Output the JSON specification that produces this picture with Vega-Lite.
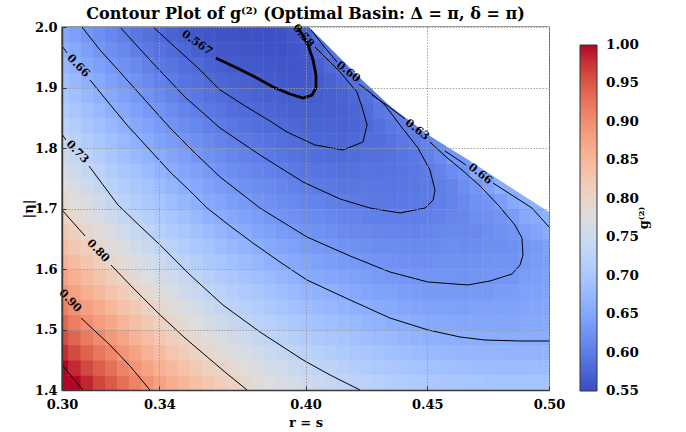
{
"$schema":"https://vega.github.io/schema/vega-lite/v6.json",
"width":487,"height":363,
"autosize":{"type":"none"},
"padding":{"left":62,"top":27,"right":137,"bottom":42},
"background":"white",
"title":{"text":"Contour Plot of g⁽²⁾ (Optimal Basin: Δ = π, δ = π)","font":"DejaVu Serif","fontSize":16,"fontWeight":"bold","color":"#000","anchor":"middle","offset":-1},
"config":{
 "view":{"stroke":"#3a3a3a","strokeWidth":1.4},
 "axis":{"labelFont":"DejaVu Serif","labelFontWeight":"bold","labelFontSize":13,"labelColor":"#000","labelFlush":false,"titleFont":"DejaVu Serif","titleFontWeight":"bold","titleFontSize":13,"titleColor":"#000","grid":true,"gridColor":"#9a9a9a","gridDash":[1.5,1.5],"gridWidth":0.9,"domain":true,"domainColor":"#3a3a3a","domainWidth":1.4,"ticks":true,"tickColor":"#333","tickSize":-4,"labelPadding":6,"titlePadding":6},
 "axisX":{"titlePadding":5,"labelPadding":12},
 "axisY":{"titleX":-34,"titleBaseline":"middle","labelPadding":9}
},
"datasets":{
"grid":[
{"r":0.300,"e":1.4125,"g":1.02},{"r":0.300,"e":1.4375,"g":1.003},{"r":0.300,"e":1.4625,"g":0.981},{"r":0.300,"e":1.4875,"g":0.959},{"r":0.300,"e":1.5125,"g":0.937},{"r":0.300,"e":1.5375,"g":0.914},{"r":0.300,"e":1.5625,"g":0.894},{"r":0.300,"e":1.5875,"g":0.877},{"r":0.300,"e":1.6125,"g":0.859},{"r":0.300,"e":1.6375,"g":0.842},{"r":0.300,"e":1.6625,"g":0.824},{"r":0.300,"e":1.6875,"g":0.807},{"r":0.300,"e":1.7125,"g":0.792},{"r":0.300,"e":1.7375,"g":0.778},{"r":0.300,"e":1.7625,"g":0.764},{"r":0.300,"e":1.7875,"g":0.750},{"r":0.300,"e":1.8125,"g":0.736},{"r":0.300,"e":1.8375,"g":0.723},{"r":0.300,"e":1.8625,"g":0.711},{"r":0.300,"e":1.8875,"g":0.699},{"r":0.300,"e":1.9125,"g":0.687},{"r":0.300,"e":1.9375,"g":0.675},{"r":0.300,"e":1.9625,"g":0.663},{"r":0.300,"e":1.9875,"g":0.652},
{"r":0.305,"e":1.4125,"g":1.004},{"r":0.305,"e":1.4375,"g":0.982},{"r":0.305,"e":1.4625,"g":0.960},{"r":0.305,"e":1.4875,"g":0.939},{"r":0.305,"e":1.5125,"g":0.917},{"r":0.305,"e":1.5375,"g":0.896},{"r":0.305,"e":1.5625,"g":0.878},{"r":0.305,"e":1.5875,"g":0.861},{"r":0.305,"e":1.6125,"g":0.843},{"r":0.305,"e":1.6375,"g":0.826},{"r":0.305,"e":1.6625,"g":0.809},{"r":0.305,"e":1.6875,"g":0.793},{"r":0.305,"e":1.7125,"g":0.779},{"r":0.305,"e":1.7375,"g":0.764},{"r":0.305,"e":1.7625,"g":0.750},{"r":0.305,"e":1.7875,"g":0.736},{"r":0.305,"e":1.8125,"g":0.723},{"r":0.305,"e":1.8375,"g":0.711},{"r":0.305,"e":1.8625,"g":0.699},{"r":0.305,"e":1.8875,"g":0.687},{"r":0.305,"e":1.9125,"g":0.675},{"r":0.305,"e":1.9375,"g":0.663},{"r":0.305,"e":1.9625,"g":0.652},{"r":0.305,"e":1.9875,"g":0.642},
{"r":0.310,"e":1.4125,"g":0.984},{"r":0.310,"e":1.4375,"g":0.962},{"r":0.310,"e":1.4625,"g":0.941},{"r":0.310,"e":1.4875,"g":0.920},{"r":0.310,"e":1.5125,"g":0.899},{"r":0.310,"e":1.5375,"g":0.881},{"r":0.310,"e":1.5625,"g":0.863},{"r":0.310,"e":1.5875,"g":0.846},{"r":0.310,"e":1.6125,"g":0.828},{"r":0.310,"e":1.6375,"g":0.810},{"r":0.310,"e":1.6625,"g":0.794},{"r":0.310,"e":1.6875,"g":0.780},{"r":0.310,"e":1.7125,"g":0.766},{"r":0.310,"e":1.7375,"g":0.751},{"r":0.310,"e":1.7625,"g":0.737},{"r":0.310,"e":1.7875,"g":0.724},{"r":0.310,"e":1.8125,"g":0.712},{"r":0.310,"e":1.8375,"g":0.700},{"r":0.310,"e":1.8625,"g":0.688},{"r":0.310,"e":1.8875,"g":0.676},{"r":0.310,"e":1.9125,"g":0.663},{"r":0.310,"e":1.9375,"g":0.652},{"r":0.310,"e":1.9625,"g":0.642},{"r":0.310,"e":1.9875,"g":0.631},
{"r":0.315,"e":1.4125,"g":0.965},{"r":0.315,"e":1.4375,"g":0.945},{"r":0.315,"e":1.4625,"g":0.924},{"r":0.315,"e":1.4875,"g":0.904},{"r":0.315,"e":1.5125,"g":0.885},{"r":0.315,"e":1.5375,"g":0.867},{"r":0.315,"e":1.5625,"g":0.849},{"r":0.315,"e":1.5875,"g":0.831},{"r":0.315,"e":1.6125,"g":0.812},{"r":0.315,"e":1.6375,"g":0.795},{"r":0.315,"e":1.6625,"g":0.781},{"r":0.315,"e":1.6875,"g":0.766},{"r":0.315,"e":1.7125,"g":0.751},{"r":0.315,"e":1.7375,"g":0.737},{"r":0.315,"e":1.7625,"g":0.724},{"r":0.315,"e":1.7875,"g":0.712},{"r":0.315,"e":1.8125,"g":0.700},{"r":0.315,"e":1.8375,"g":0.688},{"r":0.315,"e":1.8625,"g":0.676},{"r":0.315,"e":1.8875,"g":0.664},{"r":0.315,"e":1.9125,"g":0.653},{"r":0.315,"e":1.9375,"g":0.642},{"r":0.315,"e":1.9625,"g":0.631},{"r":0.315,"e":1.9875,"g":0.621},
{"r":0.320,"e":1.4125,"g":0.948},{"r":0.320,"e":1.4375,"g":0.928},{"r":0.320,"e":1.4625,"g":0.908},{"r":0.320,"e":1.4875,"g":0.889},{"r":0.320,"e":1.5125,"g":0.871},{"r":0.320,"e":1.5375,"g":0.852},{"r":0.320,"e":1.5625,"g":0.833},{"r":0.320,"e":1.5875,"g":0.815},{"r":0.320,"e":1.6125,"g":0.797},{"r":0.320,"e":1.6375,"g":0.781},{"r":0.320,"e":1.6625,"g":0.766},{"r":0.320,"e":1.6875,"g":0.751},{"r":0.320,"e":1.7125,"g":0.736},{"r":0.320,"e":1.7375,"g":0.723},{"r":0.320,"e":1.7625,"g":0.711},{"r":0.320,"e":1.7875,"g":0.699},{"r":0.320,"e":1.8125,"g":0.687},{"r":0.320,"e":1.8375,"g":0.676},{"r":0.320,"e":1.8625,"g":0.664},{"r":0.320,"e":1.8875,"g":0.653},{"r":0.320,"e":1.9125,"g":0.642},{"r":0.320,"e":1.9375,"g":0.632},{"r":0.320,"e":1.9625,"g":0.622},{"r":0.320,"e":1.9875,"g":0.612},
{"r":0.325,"e":1.4125,"g":0.931},{"r":0.325,"e":1.4375,"g":0.911},{"r":0.325,"e":1.4625,"g":0.892},{"r":0.325,"e":1.4875,"g":0.874},{"r":0.325,"e":1.5125,"g":0.855},{"r":0.325,"e":1.5375,"g":0.836},{"r":0.325,"e":1.5625,"g":0.818},{"r":0.325,"e":1.5875,"g":0.799},{"r":0.325,"e":1.6125,"g":0.783},{"r":0.325,"e":1.6375,"g":0.768},{"r":0.325,"e":1.6625,"g":0.752},{"r":0.325,"e":1.6875,"g":0.737},{"r":0.325,"e":1.7125,"g":0.723},{"r":0.325,"e":1.7375,"g":0.711},{"r":0.325,"e":1.7625,"g":0.700},{"r":0.325,"e":1.7875,"g":0.688},{"r":0.325,"e":1.8125,"g":0.676},{"r":0.325,"e":1.8375,"g":0.664},{"r":0.325,"e":1.8625,"g":0.653},{"r":0.325,"e":1.8875,"g":0.643},{"r":0.325,"e":1.9125,"g":0.633},{"r":0.325,"e":1.9375,"g":0.623},{"r":0.325,"e":1.9625,"g":0.613},{"r":0.325,"e":1.9875,"g":0.603},
{"r":0.330,"e":1.4125,"g":0.913},{"r":0.330,"e":1.4375,"g":0.894},{"r":0.330,"e":1.4625,"g":0.876},{"r":0.330,"e":1.4875,"g":0.857},{"r":0.330,"e":1.5125,"g":0.839},{"r":0.330,"e":1.5375,"g":0.820},{"r":0.330,"e":1.5625,"g":0.802},{"r":0.330,"e":1.5875,"g":0.786},{"r":0.330,"e":1.6125,"g":0.771},{"r":0.330,"e":1.6375,"g":0.755},{"r":0.330,"e":1.6625,"g":0.740},{"r":0.330,"e":1.6875,"g":0.726},{"r":0.330,"e":1.7125,"g":0.714},{"r":0.330,"e":1.7375,"g":0.702},{"r":0.330,"e":1.7625,"g":0.690},{"r":0.330,"e":1.7875,"g":0.677},{"r":0.330,"e":1.8125,"g":0.665},{"r":0.330,"e":1.8375,"g":0.654},{"r":0.330,"e":1.8625,"g":0.644},{"r":0.330,"e":1.8875,"g":0.634},{"r":0.330,"e":1.9125,"g":0.624},{"r":0.330,"e":1.9375,"g":0.614},{"r":0.330,"e":1.9625,"g":0.604},{"r":0.330,"e":1.9875,"g":0.594},
{"r":0.335,"e":1.4125,"g":0.895},{"r":0.335,"e":1.4375,"g":0.877},{"r":0.335,"e":1.4625,"g":0.859},{"r":0.335,"e":1.4875,"g":0.841},{"r":0.335,"e":1.5125,"g":0.823},{"r":0.335,"e":1.5375,"g":0.805},{"r":0.335,"e":1.5625,"g":0.789},{"r":0.335,"e":1.5875,"g":0.774},{"r":0.335,"e":1.6125,"g":0.759},{"r":0.335,"e":1.6375,"g":0.744},{"r":0.335,"e":1.6625,"g":0.729},{"r":0.335,"e":1.6875,"g":0.716},{"r":0.335,"e":1.7125,"g":0.704},{"r":0.335,"e":1.7375,"g":0.692},{"r":0.335,"e":1.7625,"g":0.679},{"r":0.335,"e":1.7875,"g":0.667},{"r":0.335,"e":1.8125,"g":0.656},{"r":0.335,"e":1.8375,"g":0.645},{"r":0.335,"e":1.8625,"g":0.635},{"r":0.335,"e":1.8875,"g":0.625},{"r":0.335,"e":1.9125,"g":0.615},{"r":0.335,"e":1.9375,"g":0.605},{"r":0.335,"e":1.9625,"g":0.596},{"r":0.335,"e":1.9875,"g":0.588},
{"r":0.340,"e":1.4125,"g":0.879},{"r":0.340,"e":1.4375,"g":0.861},{"r":0.340,"e":1.4625,"g":0.844},{"r":0.340,"e":1.4875,"g":0.826},{"r":0.340,"e":1.5125,"g":0.809},{"r":0.340,"e":1.5375,"g":0.792},{"r":0.340,"e":1.5625,"g":0.777},{"r":0.340,"e":1.5875,"g":0.762},{"r":0.340,"e":1.6125,"g":0.747},{"r":0.340,"e":1.6375,"g":0.732},{"r":0.340,"e":1.6625,"g":0.719},{"r":0.340,"e":1.6875,"g":0.706},{"r":0.340,"e":1.7125,"g":0.694},{"r":0.340,"e":1.7375,"g":0.681},{"r":0.340,"e":1.7625,"g":0.669},{"r":0.340,"e":1.7875,"g":0.657},{"r":0.340,"e":1.8125,"g":0.646},{"r":0.340,"e":1.8375,"g":0.636},{"r":0.340,"e":1.8625,"g":0.626},{"r":0.340,"e":1.8875,"g":0.616},{"r":0.340,"e":1.9125,"g":0.606},{"r":0.340,"e":1.9375,"g":0.597},{"r":0.340,"e":1.9625,"g":0.589},{"r":0.340,"e":1.9875,"g":0.581},
{"r":0.345,"e":1.4125,"g":0.864},{"r":0.345,"e":1.4375,"g":0.847},{"r":0.345,"e":1.4625,"g":0.830},{"r":0.345,"e":1.4875,"g":0.813},{"r":0.345,"e":1.5125,"g":0.796},{"r":0.345,"e":1.5375,"g":0.781},{"r":0.345,"e":1.5625,"g":0.766},{"r":0.345,"e":1.5875,"g":0.750},{"r":0.345,"e":1.6125,"g":0.735},{"r":0.345,"e":1.6375,"g":0.721},{"r":0.345,"e":1.6625,"g":0.709},{"r":0.345,"e":1.6875,"g":0.696},{"r":0.345,"e":1.7125,"g":0.683},{"r":0.345,"e":1.7375,"g":0.670},{"r":0.345,"e":1.7625,"g":0.658},{"r":0.345,"e":1.7875,"g":0.648},{"r":0.345,"e":1.8125,"g":0.637},{"r":0.345,"e":1.8375,"g":0.627},{"r":0.345,"e":1.8625,"g":0.618},{"r":0.345,"e":1.8875,"g":0.608},{"r":0.345,"e":1.9125,"g":0.599},{"r":0.345,"e":1.9375,"g":0.591},{"r":0.345,"e":1.9625,"g":0.583},{"r":0.345,"e":1.9875,"g":0.574},
{"r":0.350,"e":1.4125,"g":0.852},{"r":0.350,"e":1.4375,"g":0.835},{"r":0.350,"e":1.4625,"g":0.817},{"r":0.350,"e":1.4875,"g":0.800},{"r":0.350,"e":1.5125,"g":0.785},{"r":0.350,"e":1.5375,"g":0.769},{"r":0.350,"e":1.5625,"g":0.754},{"r":0.350,"e":1.5875,"g":0.738},{"r":0.350,"e":1.6125,"g":0.724},{"r":0.350,"e":1.6375,"g":0.711},{"r":0.350,"e":1.6625,"g":0.699},{"r":0.350,"e":1.6875,"g":0.686},{"r":0.350,"e":1.7125,"g":0.673},{"r":0.350,"e":1.7375,"g":0.661},{"r":0.350,"e":1.7625,"g":0.650},{"r":0.350,"e":1.7875,"g":0.640},{"r":0.350,"e":1.8125,"g":0.629},{"r":0.350,"e":1.8375,"g":0.619},{"r":0.350,"e":1.8625,"g":0.609},{"r":0.350,"e":1.8875,"g":0.600},{"r":0.350,"e":1.9125,"g":0.592},{"r":0.350,"e":1.9375,"g":0.585},{"r":0.350,"e":1.9625,"g":0.577},{"r":0.350,"e":1.9875,"g":0.568},
{"r":0.355,"e":1.4125,"g":0.839},{"r":0.355,"e":1.4375,"g":0.822},{"r":0.355,"e":1.4625,"g":0.805},{"r":0.355,"e":1.4875,"g":0.789},{"r":0.355,"e":1.5125,"g":0.773},{"r":0.355,"e":1.5375,"g":0.758},{"r":0.355,"e":1.5625,"g":0.742},{"r":0.355,"e":1.5875,"g":0.727},{"r":0.355,"e":1.6125,"g":0.714},{"r":0.355,"e":1.6375,"g":0.701},{"r":0.355,"e":1.6625,"g":0.689},{"r":0.355,"e":1.6875,"g":0.676},{"r":0.355,"e":1.7125,"g":0.663},{"r":0.355,"e":1.7375,"g":0.652},{"r":0.355,"e":1.7625,"g":0.642},{"r":0.355,"e":1.7875,"g":0.631},{"r":0.355,"e":1.8125,"g":0.621},{"r":0.355,"e":1.8375,"g":0.612},{"r":0.355,"e":1.8625,"g":0.602},{"r":0.355,"e":1.8875,"g":0.594},{"r":0.355,"e":1.9125,"g":0.587},{"r":0.355,"e":1.9375,"g":0.579},{"r":0.355,"e":1.9625,"g":0.571},{"r":0.355,"e":1.9875,"g":0.563},
{"r":0.360,"e":1.4125,"g":0.827},{"r":0.360,"e":1.4375,"g":0.811},{"r":0.360,"e":1.4625,"g":0.794},{"r":0.360,"e":1.4875,"g":0.778},{"r":0.360,"e":1.5125,"g":0.762},{"r":0.360,"e":1.5375,"g":0.746},{"r":0.360,"e":1.5625,"g":0.730},{"r":0.360,"e":1.5875,"g":0.717},{"r":0.360,"e":1.6125,"g":0.704},{"r":0.360,"e":1.6375,"g":0.692},{"r":0.360,"e":1.6625,"g":0.679},{"r":0.360,"e":1.6875,"g":0.666},{"r":0.360,"e":1.7125,"g":0.654},{"r":0.360,"e":1.7375,"g":0.644},{"r":0.360,"e":1.7625,"g":0.634},{"r":0.360,"e":1.7875,"g":0.624},{"r":0.360,"e":1.8125,"g":0.614},{"r":0.360,"e":1.8375,"g":0.605},{"r":0.360,"e":1.8625,"g":0.596},{"r":0.360,"e":1.8875,"g":0.589},{"r":0.360,"e":1.9125,"g":0.581},{"r":0.360,"e":1.9375,"g":0.573},{"r":0.360,"e":1.9625,"g":0.566},{"r":0.360,"e":1.9875,"g":0.560},
{"r":0.365,"e":1.4125,"g":0.815},{"r":0.365,"e":1.4375,"g":0.799},{"r":0.365,"e":1.4625,"g":0.783},{"r":0.365,"e":1.4875,"g":0.767},{"r":0.365,"e":1.5125,"g":0.751},{"r":0.365,"e":1.5375,"g":0.735},{"r":0.365,"e":1.5625,"g":0.721},{"r":0.365,"e":1.5875,"g":0.708},{"r":0.365,"e":1.6125,"g":0.696},{"r":0.365,"e":1.6375,"g":0.683},{"r":0.365,"e":1.6625,"g":0.671},{"r":0.365,"e":1.6875,"g":0.658},{"r":0.365,"e":1.7125,"g":0.647},{"r":0.365,"e":1.7375,"g":0.636},{"r":0.365,"e":1.7625,"g":0.626},{"r":0.365,"e":1.7875,"g":0.617},{"r":0.365,"e":1.8125,"g":0.608},{"r":0.365,"e":1.8375,"g":0.599},{"r":0.365,"e":1.8625,"g":0.591},{"r":0.365,"e":1.8875,"g":0.583},{"r":0.365,"e":1.9125,"g":0.576},{"r":0.365,"e":1.9375,"g":0.569},{"r":0.365,"e":1.9625,"g":0.562},{"r":0.365,"e":1.9875,"g":0.558},
{"r":0.370,"e":1.4125,"g":0.805},{"r":0.370,"e":1.4375,"g":0.789},{"r":0.370,"e":1.4625,"g":0.773},{"r":0.370,"e":1.4875,"g":0.757},{"r":0.370,"e":1.5125,"g":0.741},{"r":0.370,"e":1.5375,"g":0.726},{"r":0.370,"e":1.5625,"g":0.713},{"r":0.370,"e":1.5875,"g":0.701},{"r":0.370,"e":1.6125,"g":0.688},{"r":0.370,"e":1.6375,"g":0.675},{"r":0.370,"e":1.6625,"g":0.663},{"r":0.370,"e":1.6875,"g":0.651},{"r":0.370,"e":1.7125,"g":0.640},{"r":0.370,"e":1.7375,"g":0.630},{"r":0.370,"e":1.7625,"g":0.620},{"r":0.370,"e":1.7875,"g":0.611},{"r":0.370,"e":1.8125,"g":0.602},{"r":0.370,"e":1.8375,"g":0.594},{"r":0.370,"e":1.8625,"g":0.586},{"r":0.370,"e":1.8875,"g":0.579},{"r":0.370,"e":1.9125,"g":0.573},{"r":0.370,"e":1.9375,"g":0.566},{"r":0.370,"e":1.9625,"g":0.561},{"r":0.370,"e":1.9875,"g":0.557},
{"r":0.375,"e":1.4125,"g":0.794},{"r":0.375,"e":1.4375,"g":0.778},{"r":0.375,"e":1.4625,"g":0.763},{"r":0.375,"e":1.4875,"g":0.747},{"r":0.375,"e":1.5125,"g":0.731},{"r":0.375,"e":1.5375,"g":0.718},{"r":0.375,"e":1.5625,"g":0.706},{"r":0.375,"e":1.5875,"g":0.693},{"r":0.375,"e":1.6125,"g":0.681},{"r":0.375,"e":1.6375,"g":0.668},{"r":0.375,"e":1.6625,"g":0.656},{"r":0.375,"e":1.6875,"g":0.645},{"r":0.375,"e":1.7125,"g":0.634},{"r":0.375,"e":1.7375,"g":0.624},{"r":0.375,"e":1.7625,"g":0.615},{"r":0.375,"e":1.7875,"g":0.606},{"r":0.375,"e":1.8125,"g":0.598},{"r":0.375,"e":1.8375,"g":0.590},{"r":0.375,"e":1.8625,"g":0.582},{"r":0.375,"e":1.8875,"g":0.576},{"r":0.375,"e":1.9125,"g":0.570},{"r":0.375,"e":1.9375,"g":0.564},{"r":0.375,"e":1.9625,"g":0.559},{"r":0.375,"e":1.9875,"g":0.556},
{"r":0.380,"e":1.4125,"g":0.784},{"r":0.380,"e":1.4375,"g":0.769},{"r":0.380,"e":1.4625,"g":0.753},{"r":0.380,"e":1.4875,"g":0.738},{"r":0.380,"e":1.5125,"g":0.723},{"r":0.380,"e":1.5375,"g":0.711},{"r":0.380,"e":1.5625,"g":0.698},{"r":0.380,"e":1.5875,"g":0.686},{"r":0.380,"e":1.6125,"g":0.673},{"r":0.380,"e":1.6375,"g":0.660},{"r":0.380,"e":1.6625,"g":0.649},{"r":0.380,"e":1.6875,"g":0.638},{"r":0.380,"e":1.7125,"g":0.627},{"r":0.380,"e":1.7375,"g":0.619},{"r":0.380,"e":1.7625,"g":0.610},{"r":0.380,"e":1.7875,"g":0.602},{"r":0.380,"e":1.8125,"g":0.594},{"r":0.380,"e":1.8375,"g":0.586},{"r":0.380,"e":1.8625,"g":0.579},{"r":0.380,"e":1.8875,"g":0.573},{"r":0.380,"e":1.9125,"g":0.568},{"r":0.380,"e":1.9375,"g":0.563},{"r":0.380,"e":1.9625,"g":0.558},{"r":0.380,"e":1.9875,"g":0.556},
{"r":0.385,"e":1.4125,"g":0.775},{"r":0.385,"e":1.4375,"g":0.759},{"r":0.385,"e":1.4625,"g":0.744},{"r":0.385,"e":1.4875,"g":0.729},{"r":0.385,"e":1.5125,"g":0.717},{"r":0.385,"e":1.5375,"g":0.704},{"r":0.385,"e":1.5625,"g":0.691},{"r":0.385,"e":1.5875,"g":0.679},{"r":0.385,"e":1.6125,"g":0.666},{"r":0.385,"e":1.6375,"g":0.654},{"r":0.385,"e":1.6625,"g":0.643},{"r":0.385,"e":1.6875,"g":0.632},{"r":0.385,"e":1.7125,"g":0.623},{"r":0.385,"e":1.7375,"g":0.614},{"r":0.385,"e":1.7625,"g":0.606},{"r":0.385,"e":1.7875,"g":0.597},{"r":0.385,"e":1.8125,"g":0.590},{"r":0.385,"e":1.8375,"g":0.582},{"r":0.385,"e":1.8625,"g":0.576},{"r":0.385,"e":1.8875,"g":0.571},{"r":0.385,"e":1.9125,"g":0.565},{"r":0.385,"e":1.9375,"g":0.561},{"r":0.385,"e":1.9625,"g":0.557},{"r":0.385,"e":1.9875,"g":0.556},
{"r":0.390,"e":1.4125,"g":0.767},{"r":0.390,"e":1.4375,"g":0.752},{"r":0.390,"e":1.4625,"g":0.736},{"r":0.390,"e":1.4875,"g":0.723},{"r":0.390,"e":1.5125,"g":0.710},{"r":0.390,"e":1.5375,"g":0.697},{"r":0.390,"e":1.5625,"g":0.684},{"r":0.390,"e":1.5875,"g":0.672},{"r":0.390,"e":1.6125,"g":0.659},{"r":0.390,"e":1.6375,"g":0.648},{"r":0.390,"e":1.6625,"g":0.637},{"r":0.390,"e":1.6875,"g":0.627},{"r":0.390,"e":1.7125,"g":0.619},{"r":0.390,"e":1.7375,"g":0.610},{"r":0.390,"e":1.7625,"g":0.601},{"r":0.390,"e":1.7875,"g":0.594},{"r":0.390,"e":1.8125,"g":0.586},{"r":0.390,"e":1.8375,"g":0.579},{"r":0.390,"e":1.8625,"g":0.574},{"r":0.390,"e":1.8875,"g":0.569},{"r":0.390,"e":1.9125,"g":0.564},{"r":0.390,"e":1.9375,"g":0.560},{"r":0.390,"e":1.9625,"g":0.557},{"r":0.390,"e":1.9875,"g":0.557},
{"r":0.395,"e":1.4125,"g":0.759},{"r":0.395,"e":1.4375,"g":0.744},{"r":0.395,"e":1.4625,"g":0.729},{"r":0.395,"e":1.4875,"g":0.716},{"r":0.395,"e":1.5125,"g":0.703},{"r":0.395,"e":1.5375,"g":0.690},{"r":0.395,"e":1.5625,"g":0.678},{"r":0.395,"e":1.5875,"g":0.665},{"r":0.395,"e":1.6125,"g":0.653},{"r":0.395,"e":1.6375,"g":0.643},{"r":0.395,"e":1.6625,"g":0.632},{"r":0.395,"e":1.6875,"g":0.623},{"r":0.395,"e":1.7125,"g":0.614},{"r":0.395,"e":1.7375,"g":0.606},{"r":0.395,"e":1.7625,"g":0.597},{"r":0.395,"e":1.7875,"g":0.590},{"r":0.395,"e":1.8125,"g":0.583},{"r":0.395,"e":1.8375,"g":0.577},{"r":0.395,"e":1.8625,"g":0.572},{"r":0.395,"e":1.8875,"g":0.567},{"r":0.395,"e":1.9125,"g":0.563},{"r":0.395,"e":1.9375,"g":0.560},{"r":0.395,"e":1.9625,"g":0.560},{"r":0.395,"e":1.9875,"g":0.563},
{"r":0.400,"e":1.4125,"g":0.750},{"r":0.400,"e":1.4375,"g":0.736},{"r":0.400,"e":1.4625,"g":0.722},{"r":0.400,"e":1.4875,"g":0.709},{"r":0.400,"e":1.5125,"g":0.696},{"r":0.400,"e":1.5375,"g":0.684},{"r":0.400,"e":1.5625,"g":0.671},{"r":0.400,"e":1.5875,"g":0.658},{"r":0.400,"e":1.6125,"g":0.648},{"r":0.400,"e":1.6375,"g":0.637},{"r":0.400,"e":1.6625,"g":0.627},{"r":0.400,"e":1.6875,"g":0.619},{"r":0.400,"e":1.7125,"g":0.610},{"r":0.400,"e":1.7375,"g":0.602},{"r":0.400,"e":1.7625,"g":0.594},{"r":0.400,"e":1.7875,"g":0.587},{"r":0.400,"e":1.8125,"g":0.580},{"r":0.400,"e":1.8375,"g":0.575},{"r":0.400,"e":1.8625,"g":0.571},{"r":0.400,"e":1.8875,"g":0.566},{"r":0.400,"e":1.9125,"g":0.562},{"r":0.400,"e":1.9375,"g":0.561},{"r":0.400,"e":1.9625,"g":0.563},{"r":0.400,"e":1.9875,"g":0.570},
{"r":0.405,"e":1.4125,"g":0.744},{"r":0.405,"e":1.4375,"g":0.729},{"r":0.405,"e":1.4625,"g":0.717},{"r":0.405,"e":1.4875,"g":0.704},{"r":0.405,"e":1.5125,"g":0.691},{"r":0.405,"e":1.5375,"g":0.678},{"r":0.405,"e":1.5625,"g":0.666},{"r":0.405,"e":1.5875,"g":0.654},{"r":0.405,"e":1.6125,"g":0.644},{"r":0.405,"e":1.6375,"g":0.633},{"r":0.405,"e":1.6625,"g":0.624},{"r":0.405,"e":1.6875,"g":0.616},{"r":0.405,"e":1.7125,"g":0.607},{"r":0.405,"e":1.7375,"g":0.599},{"r":0.405,"e":1.7625,"g":0.592},{"r":0.405,"e":1.7875,"g":0.585},{"r":0.405,"e":1.8125,"g":0.578},{"r":0.405,"e":1.8375,"g":0.575},{"r":0.405,"e":1.8625,"g":0.571},{"r":0.405,"e":1.8875,"g":0.568},{"r":0.405,"e":1.9125,"g":0.567},{"r":0.405,"e":1.9375,"g":0.570},{"r":0.405,"e":1.9625,"g":0.576},{"r":0.405,"e":1.9875,"g":0.585},
{"r":0.410,"e":1.4125,"g":0.737},{"r":0.410,"e":1.4375,"g":0.724},{"r":0.410,"e":1.4625,"g":0.711},{"r":0.410,"e":1.4875,"g":0.699},{"r":0.410,"e":1.5125,"g":0.686},{"r":0.410,"e":1.5375,"g":0.673},{"r":0.410,"e":1.5625,"g":0.661},{"r":0.410,"e":1.5875,"g":0.650},{"r":0.410,"e":1.6125,"g":0.640},{"r":0.410,"e":1.6375,"g":0.630},{"r":0.410,"e":1.6625,"g":0.621},{"r":0.410,"e":1.6875,"g":0.612},{"r":0.410,"e":1.7125,"g":0.604},{"r":0.410,"e":1.7375,"g":0.596},{"r":0.410,"e":1.7625,"g":0.590},{"r":0.410,"e":1.7875,"g":0.583},{"r":0.410,"e":1.8125,"g":0.578},{"r":0.410,"e":1.8375,"g":0.575},{"r":0.410,"e":1.8625,"g":0.572},{"r":0.410,"e":1.8875,"g":0.571},{"r":0.410,"e":1.9125,"g":0.573},{"r":0.410,"e":1.9375,"g":0.579},{"r":0.410,"e":1.9625,"g":0.590},{"r":0.410,"e":1.9875,"g":0.600},
{"r":0.415,"e":1.4125,"g":0.730},{"r":0.415,"e":1.4375,"g":0.719},{"r":0.415,"e":1.4625,"g":0.706},{"r":0.415,"e":1.4875,"g":0.694},{"r":0.415,"e":1.5125,"g":0.681},{"r":0.415,"e":1.5375,"g":0.669},{"r":0.415,"e":1.5625,"g":0.657},{"r":0.415,"e":1.5875,"g":0.647},{"r":0.415,"e":1.6125,"g":0.636},{"r":0.415,"e":1.6375,"g":0.626},{"r":0.415,"e":1.6625,"g":0.618},{"r":0.415,"e":1.6875,"g":0.609},{"r":0.415,"e":1.7125,"g":0.601},{"r":0.415,"e":1.7375,"g":0.594},{"r":0.415,"e":1.7625,"g":0.588},{"r":0.415,"e":1.7875,"g":0.582},{"r":0.415,"e":1.8125,"g":0.577},{"r":0.415,"e":1.8375,"g":0.574},{"r":0.415,"e":1.8625,"g":0.573},{"r":0.415,"e":1.8875,"g":0.574},{"r":0.415,"e":1.9125,"g":0.579},{"r":0.415,"e":1.9375,"g":0.588},{"r":0.415,"e":1.9625,"g":0.598},{"r":0.415,"e":1.9875,"g":0.610},
{"r":0.420,"e":1.4125,"g":0.726},{"r":0.420,"e":1.4375,"g":0.714},{"r":0.420,"e":1.4625,"g":0.701},{"r":0.420,"e":1.4875,"g":0.689},{"r":0.420,"e":1.5125,"g":0.676},{"r":0.420,"e":1.5375,"g":0.664},{"r":0.420,"e":1.5625,"g":0.653},{"r":0.420,"e":1.5875,"g":0.643},{"r":0.420,"e":1.6125,"g":0.633},{"r":0.420,"e":1.6375,"g":0.624},{"r":0.420,"e":1.6625,"g":0.615},{"r":0.420,"e":1.6875,"g":0.607},{"r":0.420,"e":1.7125,"g":0.599},{"r":0.420,"e":1.7375,"g":0.594},{"r":0.420,"e":1.7625,"g":0.589},{"r":0.420,"e":1.7875,"g":0.583},{"r":0.420,"e":1.8125,"g":0.579},{"r":0.420,"e":1.8375,"g":0.576},{"r":0.420,"e":1.8625,"g":0.576},{"r":0.420,"e":1.8875,"g":0.579},{"r":0.420,"e":1.9125,"g":0.588},{"r":0.420,"e":1.9375,"g":0.600},{"r":0.420,"e":1.9625,"g":0.610},{"r":0.420,"e":1.9875,"g":0.610},
{"r":0.425,"e":1.4125,"g":0.722},{"r":0.425,"e":1.4375,"g":0.710},{"r":0.425,"e":1.4625,"g":0.697},{"r":0.425,"e":1.4875,"g":0.685},{"r":0.425,"e":1.5125,"g":0.672},{"r":0.425,"e":1.5375,"g":0.660},{"r":0.425,"e":1.5625,"g":0.649},{"r":0.425,"e":1.5875,"g":0.639},{"r":0.425,"e":1.6125,"g":0.629},{"r":0.425,"e":1.6375,"g":0.621},{"r":0.425,"e":1.6625,"g":0.613},{"r":0.425,"e":1.6875,"g":0.605},{"r":0.425,"e":1.7125,"g":0.598},{"r":0.425,"e":1.7375,"g":0.595},{"r":0.425,"e":1.7625,"g":0.591},{"r":0.425,"e":1.7875,"g":0.587},{"r":0.425,"e":1.8125,"g":0.583},{"r":0.425,"e":1.8375,"g":0.580},{"r":0.425,"e":1.8625,"g":0.582},{"r":0.425,"e":1.8875,"g":0.588},{"r":0.425,"e":1.9125,"g":0.598},{"r":0.425,"e":1.9375,"g":0.610},{"r":0.425,"e":1.9625,"g":0.610},{"r":0.425,"e":1.9875,"g":0.610},
{"r":0.430,"e":1.4125,"g":0.717},{"r":0.430,"e":1.4375,"g":0.705},{"r":0.430,"e":1.4625,"g":0.692},{"r":0.430,"e":1.4875,"g":0.680},{"r":0.430,"e":1.5125,"g":0.667},{"r":0.430,"e":1.5375,"g":0.656},{"r":0.430,"e":1.5625,"g":0.646},{"r":0.430,"e":1.5875,"g":0.636},{"r":0.430,"e":1.6125,"g":0.627},{"r":0.430,"e":1.6375,"g":0.619},{"r":0.430,"e":1.6625,"g":0.611},{"r":0.430,"e":1.6875,"g":0.603},{"r":0.430,"e":1.7125,"g":0.598},{"r":0.430,"e":1.7375,"g":0.594},{"r":0.430,"e":1.7625,"g":0.590},{"r":0.430,"e":1.7875,"g":0.587},{"r":0.430,"e":1.8125,"g":0.585},{"r":0.430,"e":1.8375,"g":0.587},{"r":0.430,"e":1.8625,"g":0.595},{"r":0.430,"e":1.8875,"g":0.600},{"r":0.430,"e":1.9125,"g":0.610},{"r":0.430,"e":1.9375,"g":0.610},{"r":0.430,"e":1.9625,"g":0.610},{"r":0.430,"e":1.9875,"g":0.610},
{"r":0.435,"e":1.4125,"g":0.713},{"r":0.435,"e":1.4375,"g":0.701},{"r":0.435,"e":1.4625,"g":0.688},{"r":0.435,"e":1.4875,"g":0.676},{"r":0.435,"e":1.5125,"g":0.663},{"r":0.435,"e":1.5375,"g":0.653},{"r":0.435,"e":1.5625,"g":0.643},{"r":0.435,"e":1.5875,"g":0.633},{"r":0.435,"e":1.6125,"g":0.625},{"r":0.435,"e":1.6375,"g":0.617},{"r":0.435,"e":1.6625,"g":0.610},{"r":0.435,"e":1.6875,"g":0.602},{"r":0.435,"e":1.7125,"g":0.597},{"r":0.435,"e":1.7375,"g":0.593},{"r":0.435,"e":1.7625,"g":0.590},{"r":0.435,"e":1.7875,"g":0.589},{"r":0.435,"e":1.8125,"g":0.590},{"r":0.435,"e":1.8375,"g":0.595},{"r":0.435,"e":1.8625,"g":0.600},{"r":0.435,"e":1.8875,"g":0.608},{"r":0.435,"e":1.9125,"g":0.610},{"r":0.435,"e":1.9375,"g":0.610},{"r":0.435,"e":1.9625,"g":0.610},{"r":0.435,"e":1.9875,"g":0.610},
{"r":0.440,"e":1.4125,"g":0.710},{"r":0.440,"e":1.4375,"g":0.697},{"r":0.440,"e":1.4625,"g":0.685},{"r":0.440,"e":1.4875,"g":0.672},{"r":0.440,"e":1.5125,"g":0.660},{"r":0.440,"e":1.5375,"g":0.650},{"r":0.440,"e":1.5625,"g":0.640},{"r":0.440,"e":1.5875,"g":0.631},{"r":0.440,"e":1.6125,"g":0.623},{"r":0.440,"e":1.6375,"g":0.616},{"r":0.440,"e":1.6625,"g":0.609},{"r":0.440,"e":1.6875,"g":0.602},{"r":0.440,"e":1.7125,"g":0.597},{"r":0.440,"e":1.7375,"g":0.594},{"r":0.440,"e":1.7625,"g":0.592},{"r":0.440,"e":1.7875,"g":0.593},{"r":0.440,"e":1.8125,"g":0.596},{"r":0.440,"e":1.8375,"g":0.600},{"r":0.440,"e":1.8625,"g":0.605},{"r":0.440,"e":1.8875,"g":0.610},{"r":0.440,"e":1.9125,"g":0.610},{"r":0.440,"e":1.9375,"g":0.610},{"r":0.440,"e":1.9625,"g":0.610},{"r":0.440,"e":1.9875,"g":0.610},
{"r":0.445,"e":1.4125,"g":0.707},{"r":0.445,"e":1.4375,"g":0.694},{"r":0.445,"e":1.4625,"g":0.682},{"r":0.445,"e":1.4875,"g":0.669},{"r":0.445,"e":1.5125,"g":0.657},{"r":0.445,"e":1.5375,"g":0.648},{"r":0.445,"e":1.5625,"g":0.638},{"r":0.445,"e":1.5875,"g":0.629},{"r":0.445,"e":1.6125,"g":0.622},{"r":0.445,"e":1.6375,"g":0.616},{"r":0.445,"e":1.6625,"g":0.609},{"r":0.445,"e":1.6875,"g":0.603},{"r":0.445,"e":1.7125,"g":0.598},{"r":0.445,"e":1.7375,"g":0.595},{"r":0.445,"e":1.7625,"g":0.595},{"r":0.445,"e":1.7875,"g":0.597},{"r":0.445,"e":1.8125,"g":0.600},{"r":0.445,"e":1.8375,"g":0.605},{"r":0.445,"e":1.8625,"g":0.610},{"r":0.445,"e":1.8875,"g":0.610},{"r":0.445,"e":1.9125,"g":0.610},{"r":0.445,"e":1.9375,"g":0.610},{"r":0.445,"e":1.9625,"g":0.610},{"r":0.445,"e":1.9875,"g":0.610},
{"r":0.450,"e":1.4125,"g":0.703},{"r":0.450,"e":1.4375,"g":0.691},{"r":0.450,"e":1.4625,"g":0.678},{"r":0.450,"e":1.4875,"g":0.666},{"r":0.450,"e":1.5125,"g":0.655},{"r":0.450,"e":1.5375,"g":0.646},{"r":0.450,"e":1.5625,"g":0.636},{"r":0.450,"e":1.5875,"g":0.628},{"r":0.450,"e":1.6125,"g":0.622},{"r":0.450,"e":1.6375,"g":0.616},{"r":0.450,"e":1.6625,"g":0.610},{"r":0.450,"e":1.6875,"g":0.604},{"r":0.450,"e":1.7125,"g":0.599},{"r":0.450,"e":1.7375,"g":0.598},{"r":0.450,"e":1.7625,"g":0.599},{"r":0.450,"e":1.7875,"g":0.603},{"r":0.450,"e":1.8125,"g":0.608},{"r":0.450,"e":1.8375,"g":0.612},{"r":0.450,"e":1.8625,"g":0.612},{"r":0.450,"e":1.8875,"g":0.612},{"r":0.450,"e":1.9125,"g":0.612},{"r":0.450,"e":1.9375,"g":0.612},{"r":0.450,"e":1.9625,"g":0.612},{"r":0.450,"e":1.9875,"g":0.612},
{"r":0.455,"e":1.4125,"g":0.701},{"r":0.455,"e":1.4375,"g":0.689},{"r":0.455,"e":1.4625,"g":0.676},{"r":0.455,"e":1.4875,"g":0.664},{"r":0.455,"e":1.5125,"g":0.654},{"r":0.455,"e":1.5375,"g":0.644},{"r":0.455,"e":1.5625,"g":0.635},{"r":0.455,"e":1.5875,"g":0.628},{"r":0.455,"e":1.6125,"g":0.624},{"r":0.455,"e":1.6375,"g":0.618},{"r":0.455,"e":1.6625,"g":0.613},{"r":0.455,"e":1.6875,"g":0.608},{"r":0.455,"e":1.7125,"g":0.603},{"r":0.455,"e":1.7375,"g":0.603},{"r":0.455,"e":1.7625,"g":0.608},{"r":0.455,"e":1.7875,"g":0.614},{"r":0.455,"e":1.8125,"g":0.618},{"r":0.455,"e":1.8375,"g":0.620},{"r":0.455,"e":1.8625,"g":0.620},{"r":0.455,"e":1.8875,"g":0.620},{"r":0.455,"e":1.9125,"g":0.620},{"r":0.455,"e":1.9375,"g":0.620},{"r":0.455,"e":1.9625,"g":0.620},{"r":0.455,"e":1.9875,"g":0.620},
{"r":0.460,"e":1.4125,"g":0.699},{"r":0.460,"e":1.4375,"g":0.686},{"r":0.460,"e":1.4625,"g":0.674},{"r":0.460,"e":1.4875,"g":0.662},{"r":0.460,"e":1.5125,"g":0.652},{"r":0.460,"e":1.5375,"g":0.643},{"r":0.460,"e":1.5625,"g":0.635},{"r":0.460,"e":1.5875,"g":0.628},{"r":0.460,"e":1.6125,"g":0.624},{"r":0.460,"e":1.6375,"g":0.620},{"r":0.460,"e":1.6625,"g":0.616},{"r":0.460,"e":1.6875,"g":0.611},{"r":0.460,"e":1.7125,"g":0.607},{"r":0.460,"e":1.7375,"g":0.609},{"r":0.460,"e":1.7625,"g":0.617},{"r":0.460,"e":1.7875,"g":0.630},{"r":0.460,"e":1.8125,"g":0.635},{"r":0.460,"e":1.8375,"g":0.635},{"r":0.460,"e":1.8625,"g":0.635},{"r":0.460,"e":1.8875,"g":0.635},{"r":0.460,"e":1.9125,"g":0.635},{"r":0.460,"e":1.9375,"g":0.635},{"r":0.460,"e":1.9625,"g":0.635},{"r":0.460,"e":1.9875,"g":0.635},
{"r":0.465,"e":1.4125,"g":0.697},{"r":0.465,"e":1.4375,"g":0.685},{"r":0.465,"e":1.4625,"g":0.672},{"r":0.465,"e":1.4875,"g":0.660},{"r":0.465,"e":1.5125,"g":0.651},{"r":0.465,"e":1.5375,"g":0.642},{"r":0.465,"e":1.5625,"g":0.634},{"r":0.465,"e":1.5875,"g":0.627},{"r":0.465,"e":1.6125,"g":0.623},{"r":0.465,"e":1.6375,"g":0.618},{"r":0.465,"e":1.6625,"g":0.614},{"r":0.465,"e":1.6875,"g":0.613},{"r":0.465,"e":1.7125,"g":0.615},{"r":0.465,"e":1.7375,"g":0.620},{"r":0.465,"e":1.7625,"g":0.625},{"r":0.465,"e":1.7875,"g":0.630},{"r":0.465,"e":1.8125,"g":0.635},{"r":0.465,"e":1.8375,"g":0.635},{"r":0.465,"e":1.8625,"g":0.635},{"r":0.465,"e":1.8875,"g":0.635},{"r":0.465,"e":1.9125,"g":0.635},{"r":0.465,"e":1.9375,"g":0.635},{"r":0.465,"e":1.9625,"g":0.635},{"r":0.465,"e":1.9875,"g":0.635},
{"r":0.470,"e":1.4125,"g":0.696},{"r":0.470,"e":1.4375,"g":0.683},{"r":0.470,"e":1.4625,"g":0.671},{"r":0.470,"e":1.4875,"g":0.659},{"r":0.470,"e":1.5125,"g":0.651},{"r":0.470,"e":1.5375,"g":0.643},{"r":0.470,"e":1.5625,"g":0.634},{"r":0.470,"e":1.5875,"g":0.628},{"r":0.470,"e":1.6125,"g":0.624},{"r":0.470,"e":1.6375,"g":0.619},{"r":0.470,"e":1.6625,"g":0.615},{"r":0.470,"e":1.6875,"g":0.620},{"r":0.470,"e":1.7125,"g":0.624},{"r":0.470,"e":1.7375,"g":0.629},{"r":0.470,"e":1.7625,"g":0.655},{"r":0.470,"e":1.7875,"g":0.660},{"r":0.470,"e":1.8125,"g":0.660},{"r":0.470,"e":1.8375,"g":0.660},{"r":0.470,"e":1.8625,"g":0.660},{"r":0.470,"e":1.8875,"g":0.660},{"r":0.470,"e":1.9125,"g":0.660},{"r":0.470,"e":1.9375,"g":0.660},{"r":0.470,"e":1.9625,"g":0.660},{"r":0.470,"e":1.9875,"g":0.660},
{"r":0.475,"e":1.4125,"g":0.695},{"r":0.475,"e":1.4375,"g":0.682},{"r":0.475,"e":1.4625,"g":0.670},{"r":0.475,"e":1.4875,"g":0.658},{"r":0.475,"e":1.5125,"g":0.651},{"r":0.475,"e":1.5375,"g":0.643},{"r":0.475,"e":1.5625,"g":0.635},{"r":0.475,"e":1.5875,"g":0.629},{"r":0.475,"e":1.6125,"g":0.625},{"r":0.475,"e":1.6375,"g":0.621},{"r":0.475,"e":1.6625,"g":0.620},{"r":0.475,"e":1.6875,"g":0.623},{"r":0.475,"e":1.7125,"g":0.628},{"r":0.475,"e":1.7375,"g":0.645},{"r":0.475,"e":1.7625,"g":0.655},{"r":0.475,"e":1.7875,"g":0.660},{"r":0.475,"e":1.8125,"g":0.660},{"r":0.475,"e":1.8375,"g":0.660},{"r":0.475,"e":1.8625,"g":0.660},{"r":0.475,"e":1.8875,"g":0.660},{"r":0.475,"e":1.9125,"g":0.660},{"r":0.475,"e":1.9375,"g":0.660},{"r":0.475,"e":1.9625,"g":0.660},{"r":0.475,"e":1.9875,"g":0.660},
{"r":0.480,"e":1.4125,"g":0.695},{"r":0.480,"e":1.4375,"g":0.682},{"r":0.480,"e":1.4625,"g":0.670},{"r":0.480,"e":1.4875,"g":0.658},{"r":0.480,"e":1.5125,"g":0.651},{"r":0.480,"e":1.5375,"g":0.644},{"r":0.480,"e":1.5625,"g":0.637},{"r":0.480,"e":1.5875,"g":0.630},{"r":0.480,"e":1.6125,"g":0.626},{"r":0.480,"e":1.6375,"g":0.621},{"r":0.480,"e":1.6625,"g":0.624},{"r":0.480,"e":1.6875,"g":0.628},{"r":0.480,"e":1.7125,"g":0.640},{"r":0.480,"e":1.7375,"g":0.660},{"r":0.480,"e":1.7625,"g":0.665},{"r":0.480,"e":1.7875,"g":0.665},{"r":0.480,"e":1.8125,"g":0.665},{"r":0.480,"e":1.8375,"g":0.665},{"r":0.480,"e":1.8625,"g":0.665},{"r":0.480,"e":1.8875,"g":0.665},{"r":0.480,"e":1.9125,"g":0.665},{"r":0.480,"e":1.9375,"g":0.665},{"r":0.480,"e":1.9625,"g":0.665},{"r":0.480,"e":1.9875,"g":0.665},
{"r":0.485,"e":1.4125,"g":0.694},{"r":0.485,"e":1.4375,"g":0.682},{"r":0.485,"e":1.4625,"g":0.669},{"r":0.485,"e":1.4875,"g":0.658},{"r":0.485,"e":1.5125,"g":0.651},{"r":0.485,"e":1.5375,"g":0.645},{"r":0.485,"e":1.5625,"g":0.638},{"r":0.485,"e":1.5875,"g":0.631},{"r":0.485,"e":1.6125,"g":0.627},{"r":0.485,"e":1.6375,"g":0.624},{"r":0.485,"e":1.6625,"g":0.627},{"r":0.485,"e":1.6875,"g":0.637},{"r":0.485,"e":1.7125,"g":0.654},{"r":0.485,"e":1.7375,"g":0.660},{"r":0.485,"e":1.7625,"g":0.665},{"r":0.485,"e":1.7875,"g":0.665},{"r":0.485,"e":1.8125,"g":0.665},{"r":0.485,"e":1.8375,"g":0.665},{"r":0.485,"e":1.8625,"g":0.665},{"r":0.485,"e":1.8875,"g":0.665},{"r":0.485,"e":1.9125,"g":0.665},{"r":0.485,"e":1.9375,"g":0.665},{"r":0.485,"e":1.9625,"g":0.665},{"r":0.485,"e":1.9875,"g":0.665},
{"r":0.490,"e":1.4125,"g":0.694},{"r":0.490,"e":1.4375,"g":0.682},{"r":0.490,"e":1.4625,"g":0.669},{"r":0.490,"e":1.4875,"g":0.659},{"r":0.490,"e":1.5125,"g":0.653},{"r":0.490,"e":1.5375,"g":0.648},{"r":0.490,"e":1.5625,"g":0.643},{"r":0.490,"e":1.5875,"g":0.638},{"r":0.490,"e":1.6125,"g":0.633},{"r":0.490,"e":1.6375,"g":0.630},{"r":0.490,"e":1.6625,"g":0.641},{"r":0.490,"e":1.6875,"g":0.652},{"r":0.490,"e":1.7125,"g":0.662},{"r":0.490,"e":1.7375,"g":0.670},{"r":0.490,"e":1.7625,"g":0.670},{"r":0.490,"e":1.7875,"g":0.670},{"r":0.490,"e":1.8125,"g":0.670},{"r":0.490,"e":1.8375,"g":0.670},{"r":0.490,"e":1.8625,"g":0.670},{"r":0.490,"e":1.8875,"g":0.670},{"r":0.490,"e":1.9125,"g":0.670},{"r":0.490,"e":1.9375,"g":0.670},{"r":0.490,"e":1.9625,"g":0.670},{"r":0.490,"e":1.9875,"g":0.670},
{"r":0.495,"e":1.4125,"g":0.694},{"r":0.495,"e":1.4375,"g":0.682},{"r":0.495,"e":1.4625,"g":0.669},{"r":0.495,"e":1.4875,"g":0.659},{"r":0.495,"e":1.5125,"g":0.654},{"r":0.495,"e":1.5375,"g":0.650},{"r":0.495,"e":1.5625,"g":0.646},{"r":0.495,"e":1.5875,"g":0.641},{"r":0.495,"e":1.6125,"g":0.637},{"r":0.495,"e":1.6375,"g":0.636},{"r":0.495,"e":1.6625,"g":0.649},{"r":0.495,"e":1.6875,"g":0.658},{"r":0.495,"e":1.7125,"g":0.665},{"r":0.495,"e":1.7375,"g":0.670},{"r":0.495,"e":1.7625,"g":0.670},{"r":0.495,"e":1.7875,"g":0.670},{"r":0.495,"e":1.8125,"g":0.670},{"r":0.495,"e":1.8375,"g":0.670},{"r":0.495,"e":1.8625,"g":0.670},{"r":0.495,"e":1.8875,"g":0.670},{"r":0.495,"e":1.9125,"g":0.670},{"r":0.495,"e":1.9375,"g":0.670},{"r":0.495,"e":1.9625,"g":0.670},{"r":0.495,"e":1.9875,"g":0.670},
{"r":0.500,"e":1.4125,"g":0.694},{"r":0.500,"e":1.4375,"g":0.682},{"r":0.500,"e":1.4625,"g":0.669},{"r":0.500,"e":1.4875,"g":0.659},{"r":0.500,"e":1.5125,"g":0.655},{"r":0.500,"e":1.5375,"g":0.651},{"r":0.500,"e":1.5625,"g":0.647},{"r":0.500,"e":1.5875,"g":0.643},{"r":0.500,"e":1.6125,"g":0.641},{"r":0.500,"e":1.6375,"g":0.643},{"r":0.500,"e":1.6625,"g":0.658},{"r":0.500,"e":1.6875,"g":0.665},{"r":0.500,"e":1.7125,"g":0.670},{"r":0.500,"e":1.7375,"g":0.670},{"r":0.500,"e":1.7625,"g":0.670},{"r":0.500,"e":1.7875,"g":0.670},{"r":0.500,"e":1.8125,"g":0.670},{"r":0.500,"e":1.8375,"g":0.670},{"r":0.500,"e":1.8625,"g":0.670},{"r":0.500,"e":1.8875,"g":0.670},{"r":0.500,"e":1.9125,"g":0.670},{"r":0.500,"e":1.9375,"g":0.670},{"r":0.500,"e":1.9625,"g":0.670},{"r":0.500,"e":1.9875,"g":0.670}
],
"mask":[
{"r":0.4014,"e":2.0},{"r":0.4101,"e":1.9653},{"r":0.4224,"e":1.9157},{"r":0.4347,"e":1.8694},{"r":0.4511,"e":1.8198},{"r":0.4676,"e":1.7785},{"r":0.4840,"e":1.7355},{"r":0.5,"e":1.6942}
],
"lines":[
{"s":"a1","o":0,"r":0.3000,"e":1.4413},{"s":"a1","o":1,"r":0.3086,"e":1.4000},
{"s":"b1","o":0,"r":0.3078,"e":1.5190},{"s":"b1","o":1,"r":0.3197,"e":1.4744},{"s":"b1","o":2,"r":0.3279,"e":1.4397},{"s":"b1","o":3,"r":0.3361,"e":1.4000},
{"s":"c1","o":0,"r":0.3000,"e":1.6975},{"s":"c1","o":1,"r":0.3095,"e":1.6545},
{"s":"c2","o":0,"r":0.3201,"e":1.6066},{"s":"c2","o":1,"r":0.3300,"e":1.5653},{"s":"c2","o":2,"r":0.3403,"e":1.5240},{"s":"c2","o":3,"r":0.3505,"e":1.4860},{"s":"c2","o":4,"r":0.3587,"e":1.4579},{"s":"c2","o":5,"r":0.3669,"e":1.4298},{"s":"c2","o":6,"r":0.3760,"e":1.4000},
{"s":"d1","o":0,"r":0.3000,"e":1.8231},{"s":"d1","o":1,"r":0.3016,"e":1.8132},
{"s":"d2","o":0,"r":0.3111,"e":1.7702},{"s":"d2","o":1,"r":0.3230,"e":1.7058},{"s":"d2","o":2,"r":0.3320,"e":1.6711},{"s":"d2","o":3,"r":0.3403,"e":1.6397},{"s":"d2","o":4,"r":0.3526,"e":1.5901},{"s":"d2","o":5,"r":0.3661,"e":1.5405},{"s":"d2","o":6,"r":0.3813,"e":1.4959},{"s":"d2","o":7,"r":0.3990,"e":1.4496},{"s":"d2","o":8,"r":0.4101,"e":1.4248},{"s":"d2","o":9,"r":0.4224,"e":1.4000},
{"s":"e1","o":0,"r":0.3000,"e":1.9686},{"s":"e1","o":1,"r":0.3021,"e":1.9570},
{"s":"e2","o":0,"r":0.3115,"e":1.9124},{"s":"e2","o":1,"r":0.3189,"e":1.8760},{"s":"e2","o":2,"r":0.3267,"e":1.8380},{"s":"e2","o":3,"r":0.3361,"e":1.7967},{"s":"e2","o":4,"r":0.3444,"e":1.7603},{"s":"e2","o":5,"r":0.3526,"e":1.7289},{"s":"e2","o":6,"r":0.3596,"e":1.7008},{"s":"e2","o":7,"r":0.3690,"e":1.6711},{"s":"e2","o":8,"r":0.3784,"e":1.6430},{"s":"e2","o":9,"r":0.3895,"e":1.6116},{"s":"e2","o":10,"r":0.4006,"e":1.5818},{"s":"e2","o":11,"r":0.4183,"e":1.5488},{"s":"e2","o":12,"r":0.4347,"e":1.5190},{"s":"e2","o":13,"r":0.4503,"e":1.4992},{"s":"e2","o":14,"r":0.4635,"e":1.4876},{"s":"e2","o":15,"r":0.4737,"e":1.4826},{"s":"e2","o":16,"r":0.4881,"e":1.4810},{"s":"e2","o":17,"r":0.5000,"e":1.4810},
{"s":"e3","o":0,"r":0.5000,"e":1.6694},{"s":"e3","o":1,"r":0.4930,"e":1.7008},{"s":"e3","o":2,"r":0.4770,"e":1.7421},
{"s":"e4","o":0,"r":0.4659,"e":1.7719},{"s":"e4","o":1,"r":0.4573,"e":1.7950},
{"s":"f1","o":0,"r":0.3082,"e":2.0},{"s":"f1","o":1,"r":0.3156,"e":1.9620},{"s":"f1","o":2,"r":0.3238,"e":1.9256},{"s":"f1","o":3,"r":0.3341,"e":1.8793},{"s":"f1","o":4,"r":0.3444,"e":1.8331},{"s":"f1","o":5,"r":0.3546,"e":1.7917},{"s":"f1","o":6,"r":0.3649,"e":1.7521},{"s":"f1","o":7,"r":0.3813,"e":1.7008},{"s":"f1","o":8,"r":0.4006,"e":1.6529},{"s":"f1","o":9,"r":0.4183,"e":1.6215},{"s":"f1","o":10,"r":0.4347,"e":1.5950},{"s":"f1","o":11,"r":0.4503,"e":1.5785},{"s":"f1","o":12,"r":0.4667,"e":1.5736},{"s":"f1","o":13,"r":0.4758,"e":1.5802},{"s":"f1","o":14,"r":0.4848,"e":1.5917},{"s":"f1","o":15,"r":0.4881,"e":1.6066},{"s":"f1","o":16,"r":0.4893,"e":1.6231},{"s":"f1","o":17,"r":0.4889,"e":1.6512},{"s":"f1","o":18,"r":0.4860,"e":1.6727},{"s":"f1","o":19,"r":0.4791,"e":1.7058},{"s":"f1","o":20,"r":0.4717,"e":1.7372},{"s":"f1","o":21,"r":0.4643,"e":1.7636},{"s":"f1","o":22,"r":0.4573,"e":1.7868},{"s":"f1","o":23,"r":0.4511,"e":1.8099},
{"s":"f2","o":0,"r":0.4409,"e":1.8479},{"s":"f2","o":1,"r":0.4339,"e":1.8694},{"s":"f2","o":2,"r":0.4273,"e":1.8876},
{"s":"g1","o":0,"r":0.3238,"e":2.0},{"s":"g1","o":1,"r":0.3361,"e":1.9455},{"s":"g1","o":2,"r":0.3505,"e":1.8843},{"s":"g1","o":3,"r":0.3649,"e":1.8331},{"s":"g1","o":4,"r":0.3813,"e":1.7884},{"s":"g1","o":5,"r":0.3990,"e":1.7438},{"s":"g1","o":6,"r":0.4142,"e":1.7157},{"s":"g1","o":7,"r":0.4265,"e":1.7008},{"s":"g1","o":8,"r":0.4388,"e":1.6926},{"s":"g1","o":9,"r":0.4491,"e":1.7008},{"s":"g1","o":10,"r":0.4524,"e":1.7140},{"s":"g1","o":11,"r":0.4532,"e":1.7306},{"s":"g1","o":12,"r":0.4511,"e":1.7636},{"s":"g1","o":13,"r":0.4462,"e":1.8000},{"s":"g1","o":14,"r":0.4388,"e":1.8380},{"s":"g1","o":15,"r":0.4326,"e":1.8711},{"s":"g1","o":16,"r":0.4273,"e":1.8893},{"s":"g1","o":17,"r":0.4220,"e":1.9058},
{"s":"g2","o":0,"r":0.4129,"e":1.9421},{"s":"g2","o":1,"r":0.4068,"e":1.9719},{"s":"g2","o":2,"r":0.4023,"e":1.9950},
{"s":"h1","o":0,"r":0.3374,"e":2.0},{"s":"h1","o":1,"r":0.3464,"e":1.9669},{"s":"h1","o":2,"r":0.3559,"e":1.9322},{"s":"h1","o":3,"r":0.3649,"e":1.8959},{"s":"h1","o":4,"r":0.3752,"e":1.8694},{"s":"h1","o":5,"r":0.3854,"e":1.8446},{"s":"h1","o":6,"r":0.3924,"e":1.8264},{"s":"h1","o":7,"r":0.4039,"e":1.8050},{"s":"h1","o":8,"r":0.4154,"e":1.7967},{"s":"h1","o":9,"r":0.4236,"e":1.8099},{"s":"h1","o":10,"r":0.4253,"e":1.8380},{"s":"h1","o":11,"r":0.4232,"e":1.8678},{"s":"h1","o":12,"r":0.4211,"e":1.8926},{"s":"h1","o":13,"r":0.4142,"e":1.9256},{"s":"h1","o":14,"r":0.4101,"e":1.9421},{"s":"h1","o":15,"r":0.4039,"e":1.9669},
{"s":"k1","o":0,"r":0.3632,"e":1.9488},{"s":"k1","o":1,"r":0.3710,"e":1.9339},{"s":"k1","o":2,"r":0.3793,"e":1.9174},{"s":"k1","o":3,"r":0.3867,"e":1.9008},{"s":"k1","o":4,"r":0.3936,"e":1.8893},{"s":"k1","o":5,"r":0.3990,"e":1.8826},{"s":"k1","o":6,"r":0.4027,"e":1.8876},{"s":"k1","o":7,"r":0.4043,"e":1.8992},{"s":"k1","o":8,"r":0.4043,"e":1.9207},{"s":"k1","o":9,"r":0.4031,"e":1.9455},{"s":"k1","o":10,"r":0.4010,"e":1.9702},{"s":"k1","o":11,"r":0.3986,"e":1.9884},{"s":"k1","o":12,"r":0.3965,"e":2.0}
],
"labels":[
{"lab":"0.567","r":0.3554,"e":1.9736,"grp":"a"},
{"lab":"0.58","r":0.3990,"e":1.9851,"grp":"b"},
{"lab":"0.60","r":0.4175,"e":1.9256,"grp":"c"},
{"lab":"0.63","r":0.4458,"e":1.8298,"grp":"c"},
{"lab":"0.66","r":0.4717,"e":1.7570,"grp":"c"},
{"lab":"0.66","r":0.3066,"e":1.9355,"grp":"d"},
{"lab":"0.73","r":0.3062,"e":1.7934,"grp":"d"},
{"lab":"0.80","r":0.3148,"e":1.6298,"grp":"d"},
{"lab":"0.90","r":0.3033,"e":1.5471,"grp":"d"}
]
},
"encoding":{
 "x":{"field":"r","type":"quantitative","title":"r = s","scale":{"domain":[0.3,0.5],"nice":false,"zero":false},"axis":{"values":[0.3,0.34,0.4,0.45,0.5],"format":".2f","grid":true,"zindex":1}},
 "y":{"field":"e","type":"quantitative","title":"|η|","scale":{"domain":[1.4,2.0],"nice":false,"zero":false},"axis":{"values":[1.4,1.5,1.6,1.7,1.8,1.9,2.0],"format":".1f","grid":true,"zindex":1}}
},
"layer":[
{"data":{"name":"grid"},
 "mark":{"type":"rect","clip":true},
 "encoding":{
  "x":{"field":"r","type":"quantitative","bin":{"extent":[0.2975,0.5025],"step":0.005,"nice":false},"title":"r = s","scale":{"domain":[0.3,0.5],"nice":false,"zero":false},"axis":{"values":[0.3,0.34,0.4,0.45,0.5],"format":".2f","grid":true,"zindex":1}},
  "y":{"field":"e","type":"quantitative","bin":{"extent":[1.4,2.0],"step":0.025,"nice":false},"title":"|η|","scale":{"domain":[1.4,2.0],"nice":false,"zero":false},"axis":{"values":[1.4,1.5,1.6,1.7,1.8,1.9,2.0],"format":".1f","grid":true,"zindex":1}},
  "color":{"field":"g","type":"quantitative",
   "scale":{"domain":[0.55,0.578125,0.60625,0.634375,0.6625,0.690625,0.71875,0.746875,0.775,0.803125,0.83125,0.859375,0.8875,0.915625,0.94375,0.971875,1.0],"range":["#3b4cc0","#4d68d7","#6282ea","#779af7","#8db0fe","#a3c2ff","#b8d0f9","#ccd9ee","#dddddd","#ecd3c5","#f5c4ac","#f7b194","#f49a7b","#ec7f63","#de604d","#cb3e38","#b40426"],"clamp":true,"interpolate":"rgb"},
   "legend":{"type":"gradient","orient":"none","legendX":518,"legendY":18,"direction":"vertical","gradientLength":346,"gradientThickness":17,"values":[0.55,0.6,0.65,0.7,0.75,0.8,0.85,0.9,0.95,1.0],"format":".2f","labelFont":"DejaVu Serif","labelFontWeight":"bold","labelFontSize":13.5,"labelColor":"#000","labelOffset":9,"labelOverlap":false,"title":"g⁽²⁾","titleOrient":"right","titleFont":"DejaVu Serif","titleFontWeight":"bold","titleFontSize":13,"titleColor":"#000","titlePadding":12,"titleAnchor":"middle","gradientStrokeColor":"#333","gradientStrokeWidth":1,"padding":0,"encode":{"labels":{"update":{"baseline":{"value":"middle"}}},"title":{"update":{"angle":{"value":-90}}}}}}
 }},
{"data":{"name":"grid"},
 "mark":{"type":"rect","clip":true},
 "encoding":{
  "x":{"field":"r","type":"quantitative","bin":{"extent":[0.2975,0.5025],"step":0.005,"nice":false},"title":"r = s","scale":{"domain":[0.3,0.5],"nice":false,"zero":false},"axis":{"values":[0.3,0.34,0.4,0.45,0.5],"format":".2f","grid":true,"zindex":1}},
  "y":{"field":"e","type":"quantitative","bin":{"extent":[1.4,2.0],"step":0.025,"nice":false},"title":"|η|","scale":{"domain":[1.4,2.0],"nice":false,"zero":false},"axis":{"values":[1.4,1.5,1.6,1.7,1.8,1.9,2.0],"format":".1f","grid":true,"zindex":1}},
  "color":{"field":"g","type":"quantitative"}
 }},
{"data":{"name":"lines"},
 "transform":[{"filter":"datum.s !== 'k1'"}],
 "mark":{"type":"line","color":"#000","strokeWidth":1.0,"clip":true},
 "encoding":{"detail":{"field":"s"},"order":{"field":"o","type":"quantitative"}}},
{"data":{"name":"lines"},
 "transform":[{"filter":"datum.s === 'k1'"}],
 "mark":{"type":"line","color":"#000","strokeWidth":2.8,"clip":true},
 "encoding":{"detail":{"field":"s"},"order":{"field":"o","type":"quantitative"}}},
{"data":{"name":"mask"},
 "mark":{"type":"area","color":"white","opacity":1,"clip":true},
 "encoding":{"y2":{"datum":2.0}}},
{"data":{"name":"labels"},
 "transform":[{"filter":"datum.grp === 'a'"}],
 "mark":{"type":"text","font":"DejaVu Serif","fontWeight":"bold","fontSize":11,"angle":35,"color":"#000"},
 "encoding":{"text":{"field":"lab"}}},
{"data":{"name":"labels"},
 "transform":[{"filter":"datum.grp === 'b'"}],
 "mark":{"type":"text","font":"DejaVu Serif","fontWeight":"bold","fontSize":11,"angle":50,"color":"#000"},
 "encoding":{"text":{"field":"lab"}}},
{"data":{"name":"labels"},
 "transform":[{"filter":"datum.grp === 'c'"}],
 "mark":{"type":"text","font":"DejaVu Serif","fontWeight":"bold","fontSize":11,"angle":38,"color":"#000"},
 "encoding":{"text":{"field":"lab"}}},
{"data":{"name":"labels"},
 "transform":[{"filter":"datum.grp === 'd'"}],
 "mark":{"type":"text","font":"DejaVu Serif","fontWeight":"bold","fontSize":11,"angle":46,"color":"#000"},
 "encoding":{"text":{"field":"lab"}}}
]
}
